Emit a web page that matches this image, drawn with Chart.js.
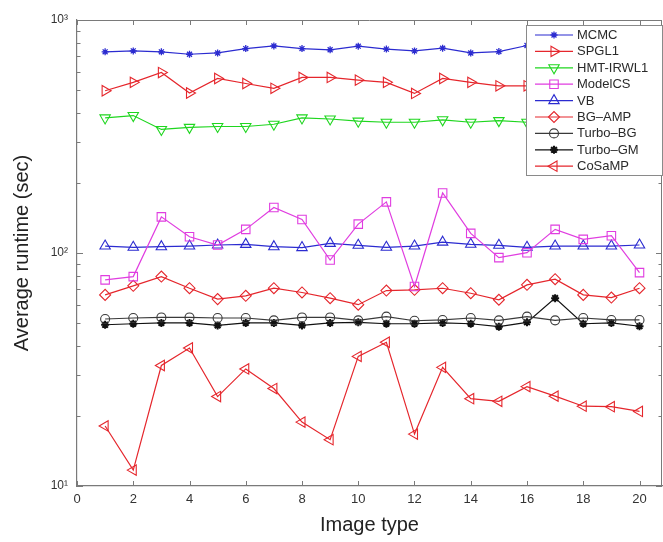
<!DOCTYPE html>
<html><head><meta charset="utf-8">
<script src="https://cdn.jsdelivr.net/npm/chart.js@4.4.1/dist/chart.umd.min.js"></script>
<style>html,body{margin:0;padding:0;background:#fff;}#wrap{width:663px;height:542px;}</style>
</head><body><div id="wrap"><canvas id="c" width="663" height="542"></canvas></div>
<script>
const imageTypes = [1,2,3,4,5,6,7,8,9,10,11,12,13,14,15,16,17,18,19,20];
const mcmc     = [730,737,730,713,722,754,774,754,745,772,750,737,757,722,732,777,745,760,750,745];
const spgl1    = [497,540,595,486,561,534,509,567,567,552,540,484,561,540,522,522,520,540,510,530];
const hmtIrwl1 = [380,389,339,346,349,349,357,380,376,368,364,364,373,364,370,364,365,370,360,368];
const modelCS  = [76.7,79.2,142.9,117.4,108.2,126.3,156.8,139.3,93.3,133,165.7,71.8,181,121.4,95.5,100.3,126.3,114.4,118.6,82.4];
const vb       = [107.1,105.8,106.4,107.1,108.2,108.9,106.4,105.5,110,107.9,105.8,107.1,111.3,109,107.9,105.8,107.1,107.1,107.1,108.2];
const bgAmp    = [66.1,72.3,79.2,70.6,63.4,65.5,70.6,67.7,64,60,69,69.5,70.6,67.2,63,73,77.2,66.1,64.4,70.6];
const turboBG  = [52.1,52.6,52.9,52.9,52.6,52.6,51.4,52.9,52.9,51.4,53.3,51.2,51.6,52.6,51.4,53.3,51.4,52.6,51.6,51.6];
const turboGM  = [49.2,49.7,50.1,50.1,48.9,50.1,50.1,48.9,50.1,50.4,49.7,49.7,50.1,49.7,48.3,50.4,64,49.7,50.1,48.5];
const coSaMP   = [18.1,11.7,32.9,39.1,24.2,31.8,26.2,18.8,15.8,36,41.4,16.7,32.3,23.7,23.1,26.7,24.3,22.0,21.9,20.9];

const xTickValues  = [0,2,4,6,8,10,12,14,16,18,20];
const yMajorTicks  = [10,100,1000];
const yMajorLabels = ['10\u00B9','10\u00B2','10\u00B3'];
const yMinorTicks  = [20,30,40,50,60,70,80,90,200,300,400,500,600,700,800,900];

const FONT = "'Liberation Sans', Arial, Helvetica, sans-serif";
const BLUE = '#2b2bd0', RED = '#e5262c', GREEN = '#1fd61f', MAG = '#e03de0', DGRAY = '#3a3a3a', BLACK = '#111111';

function pts(vals){ return vals.map((v,i)=>({x: imageTypes[i], y: v})); }
function ds(label, vals, color, style, radius, rotation, pbw){
  return { label, data: pts(vals), borderColor: color, backgroundColor: color,
    pointBorderColor: color, pointBackgroundColor: 'rgba(0,0,0,0)',
    pointStyle: style, pointRadius: radius, pointRotation: rotation || 0,
    pointBorderWidth: pbw || 1.1, borderWidth: 1.2, tension: 0, fill: false };
}

const datasets = [
  ds('MCMC', mcmc, BLUE, 'star', 3.5, 0, 1.3),
  ds('SPGL1', spgl1, RED, 'triangle', 6, 90),
  ds('HMT-IRWL1', hmtIrwl1, GREEN, 'triangle', 6, 180),
  ds('ModelCS', modelCS, MAG, 'rect', 6),
  ds('VB', vb, BLUE, 'triangle', 6, 0),
  ds('BG\u2013AMP', bgAmp, RED, 'rectRot', 5.5),
  ds('Turbo\u2013BG', turboBG, DGRAY, 'circle', 4.5),
  ds('Turbo\u2013GM', turboGM, BLACK, 'star', 4, 0, 2),
  ds('CoSaMP', coSaMP, RED, 'triangle', 6, 270)
];

const boxPlugin = {
  id: 'boxTicks',
  afterDatasetsDraw(chart){
    const ctx = chart.ctx, a = chart.chartArea;
    const xs = chart.scales.x, ys = chart.scales.y;
    ctx.save();
    ctx.strokeStyle = '#7a7a7a'; ctx.lineWidth = 1;
    ctx.beginPath();
    ctx.moveTo(a.left, a.top + 0.5); ctx.lineTo(a.right, a.top + 0.5);
    ctx.moveTo(a.right - 0.5, a.top); ctx.lineTo(a.right - 0.5, a.bottom);
    xs.ticks.forEach(t => {
      const px = Math.round(xs.getPixelForValue(t.value)) + 0.5;
      ctx.moveTo(px, a.bottom); ctx.lineTo(px, a.bottom - 5);
      ctx.moveTo(px, a.top); ctx.lineTo(px, a.top + 5);
    });
    ys.ticks.forEach(t => {
      const py = Math.round(ys.getPixelForValue(t.value)) + 0.5;
      const len = yMajorTicks.includes(t.value) ? 6 : 3.5;
      ctx.moveTo(a.left, py); ctx.lineTo(a.left + len, py);
      ctx.moveTo(a.right, py); ctx.lineTo(a.right - len, py);
    });
    ctx.stroke();
    ctx.restore();
  },
  afterDraw(chart){
    const ctx = chart.ctx, a = chart.chartArea;
    const bx = a.right - 136, by = a.top + 5, bw = 137, bh = 151;
    ctx.save();
    ctx.fillStyle = '#ffffff';
    ctx.fillRect(bx, by, bw, bh);
    ctx.strokeStyle = '#8a8a8a'; ctx.lineWidth = 1;
    ctx.strokeRect(bx + 0.5, by + 0.5, bw - 1, bh - 1);
    ctx.font = '13px ' + FONT;
    ctx.textBaseline = 'middle'; ctx.textAlign = 'left';
    chart.data.datasets.forEach((d, i) => {
      const y = by + 10 + i * 16.4;
      ctx.strokeStyle = d.borderColor; ctx.lineWidth = d.borderWidth;
      ctx.beginPath(); ctx.moveTo(bx + 9, y); ctx.lineTo(bx + 47, y); ctx.stroke();
      ctx.lineWidth = d.pointBorderWidth; ctx.fillStyle = 'rgba(0,0,0,0)';
      Chart.helpers.drawPoint(ctx, {pointStyle: d.pointStyle, rotation: d.pointRotation, radius: d.pointRadius, borderWidth: d.pointBorderWidth}, bx + 28, y);
      ctx.fillStyle = '#2a2a2a';
      ctx.fillText(d.label, bx + 51, y + 0.5);
    });
    ctx.restore();
  }
};

new Chart(document.getElementById('c'), {
  type: 'line',
  data: { datasets },
  plugins: [boxPlugin],
  options: {
    responsive: false, devicePixelRatio: 1, animation: false,
    layout: { autoPadding: false, padding: { top: 20, right: 1, left: 0, bottom: 0 } },
    plugins: { legend: { display: false }, tooltip: { enabled: false } },
    scales: {
      x: {
        type: 'linear', min: 0, max: 20.8,
        grid: { display: false, drawTicks: false },
        border: { display: true, color: '#7a7a7a', width: 1.2 },
        afterBuildTicks: s => { s.ticks = xTickValues.map(v => ({value: v})); },
        afterFit: s => { s.height = 56; s.paddingLeft = 0; s.paddingRight = 0; },
        ticks: { padding: 6, color: '#333', font: { size: 13, family: FONT }, autoSkip: false, maxRotation: 0 },
        title: { display: true, text: 'Image type', color: '#222', font: { size: 20, family: FONT }, padding: { top: 4, bottom: 5 } }
      },
      y: {
        type: 'logarithmic', min: 10, max: 1000,
        grid: { display: false, drawTicks: false },
        border: { display: true, color: '#7a7a7a', width: 1.2 },
        afterBuildTicks: s => { s.ticks = yMajorTicks.concat(yMinorTicks).sort((p,q)=>p-q).map(v => ({value: v, major: yMajorTicks.includes(v)})); },
        afterFit: s => { s.width = 77; s.paddingTop = 0; s.paddingBottom = 0; },
        ticks: { padding: 9, color: '#333', font: { size: 12, family: FONT }, autoSkip: false,
          callback: v => { const k = yMajorTicks.indexOf(v); return k >= 0 ? yMajorLabels[k] : ''; } },
        title: { display: true, text: 'Average runtime (sec)', color: '#222', font: { size: 20, family: FONT }, padding: { top: 10, bottom: 4 } }
      }
    }
  }
});
</script></body></html>
